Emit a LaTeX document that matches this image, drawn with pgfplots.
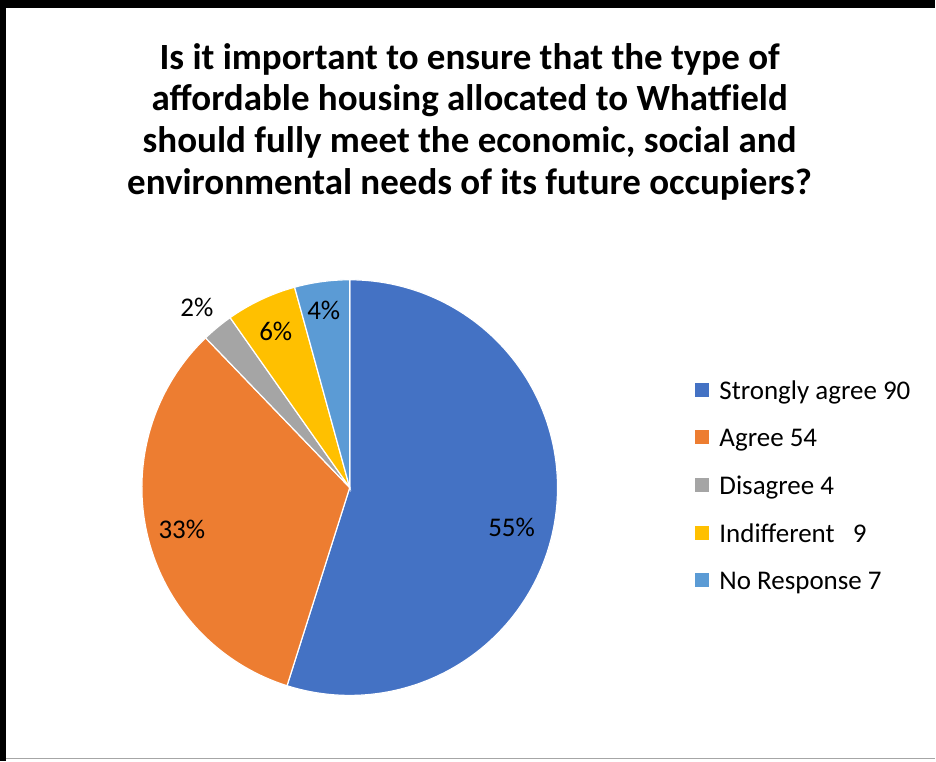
\documentclass[border=0pt]{standalone}
\usepackage{fontspec}
\setmainfont{Carlito}
\usepackage{pgfplots}
\pgfplotsset{compat=1.18}
\definecolor{c1}{HTML}{4472C4}
\definecolor{c2}{HTML}{ED7D31}
\definecolor{c3}{HTML}{A5A5A5}
\definecolor{c4}{HTML}{FFC000}
\definecolor{c5}{HTML}{5B9BD5}
% data values
\def\vA{90}\def\vB{54}\def\vC{4}\def\vD{9}\def\vE{7}
\pgfmathsetmacro\tot{\vA+\vB+\vC+\vD+\vE}
\pgfmathsetmacro\aA{90-\vA/\tot*360}
\pgfmathsetmacro\aB{\aA-\vB/\tot*360}
\pgfmathsetmacro\aC{\aB-\vC/\tot*360}
\pgfmathsetmacro\aD{\aC-\vD/\tot*360}
\pgfmathsetmacro\aE{\aD-\vE/\tot*360}
\begin{document}
\begin{tikzpicture}
\begin{axis}[
  width=936pt, height=762pt, scale only axis,
  xmin=0, xmax=936, ymin=0, ymax=762,
  hide axis, clip=false,
  legend style={at={(axis cs:696,383)}, anchor=north west, draw=none, fill=none,
    font=\fontsize{27}{33}\selectfont, row sep=24pt, inner sep=0pt, outer sep=0pt,
    /tikz/every odd column/.append style={column sep=8pt}},
  legend cell align=left,
  legend image code/.code={\fill[#1, draw=none] (0pt,-6pt) rectangle (14pt,8pt);},
]
\pgfplotsset{slice/.style={draw=white, line width=1.2pt, samples=120, forget plot}}
\addplot[slice, fill=c1, domain=\aA:90] ({350+208*cos(x)},{274+208*sin(x)}) -- (axis cs:350,274) -- cycle;
\addplot[slice, fill=c2, domain=\aB:\aA] ({350+208*cos(x)},{274+208*sin(x)}) -- (axis cs:350,274) -- cycle;
\addplot[slice, fill=c3, domain=\aC:\aB] ({350+208*cos(x)},{274+208*sin(x)}) -- (axis cs:350,274) -- cycle;
\addplot[slice, fill=c4, domain=\aD:\aC] ({350+208*cos(x)},{274+208*sin(x)}) -- (axis cs:350,274) -- cycle;
\addplot[slice, fill=c5, domain=\aE:\aD] ({350+208*cos(x)},{274+208*sin(x)}) -- (axis cs:350,274) -- cycle;
\addlegendimage{fill=c1}
\addlegendimage{fill=c2}
\addlegendimage{fill=c3}
\addlegendimage{fill=c4}
\addlegendimage{fill=c5}
\legend{Strongly agree 90, Agree 54, Disagree 4, Indifferent\ \ \ 9, No Response 7}
\begin{scope}[font=\fontsize{27}{33}\selectfont]
\node at (axis cs:512,234) {55\%};
\node at (axis cs:182,232) {33\%};
\node at (axis cs:197,454) {2\%};
\node at (axis cs:276,430) {6\%};
\node at (axis cs:324,451) {4\%};
\end{scope}
\node[align=center, font=\fontsize{37}{42}\bfseries\selectfont] at (axis cs:470,640)
  {Is it important to ensure that the type of\\affordable housing allocated to Whatfield\\should fully meet the economic, social and\\environmental needs of its future occupiers?};
\fill[black] (axis cs:0,754) rectangle (axis cs:936,762);
\fill[black] (axis cs:0,0) rectangle (axis cs:6,762);
\draw[gray!70, line width=1.5pt] (axis cs:6,3) -- (axis cs:936,3);
\end{axis}
\end{tikzpicture}
\end{document}
